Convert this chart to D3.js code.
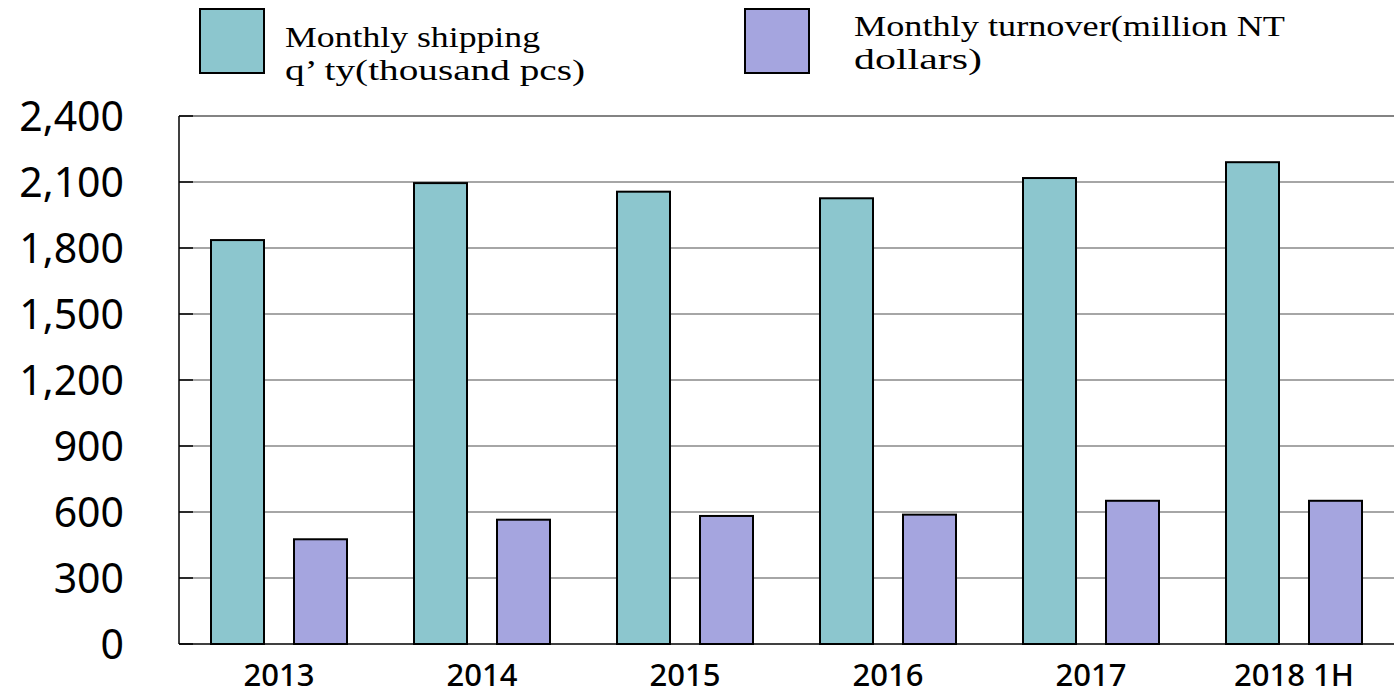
<!DOCTYPE html>
<html>
<head>
<meta charset="utf-8">
<script src="https://cdn.jsdelivr.net/npm/d3@7"></script>
<style>
  html, body { margin: 0; padding: 0; background: #ffffff; }
  svg { display: block; }
</style>
</head>
<body>
<svg id="chart" width="1394" height="696"></svg>
<script>
// ---- data ----
const categories = ["2013", "2014", "2015", "2016", "2017", "2018 1H"];
const seriesNames = ["Monthly shipping q’ ty(thousand pcs)", "Monthly turnover(million NT dollars)"];
const shipping = [1836, 2095, 2056, 2026, 2118, 2190];
const turnover = [476, 565, 582, 588, 651, 651];
const yTicks = [0, 300, 600, 900, 1200, 1500, 1800, 2100, 2400];
const legendLines = [["Monthly shipping", "q’  ty(thousand pcs)"], ["Monthly turnover(million NT", "dollars)"]];
const colors = ["#8cc6ce", "#a5a5df"];

// ---- layout ----
const svg = d3.select("#chart");
const plotLeft = 179, plotTop = 116, plotBottom = 644, step = 203;
const x = d3.scaleBand().domain(categories).range([plotLeft, plotLeft + step * categories.length]).paddingInner(0).paddingOuter(0);
const xs = d3.scaleBand().domain([0, 1]).range([32, 168]).paddingInner(30 / 83).paddingOuter(0);
const y = d3.scaleLinear().domain([0, 2400]).range([plotBottom, plotTop]);

// gridlines
svg.append("g").selectAll("line").data(yTicks.filter(d => d > 0 && d < 2400)).join("line")
  .attr("x1", plotLeft).attr("x2", 1394)
  .attr("y1", d => y(d)).attr("y2", d => y(d))
  .attr("stroke", "#a6a6a6").attr("stroke-width", 2);
// top border
svg.append("line").attr("x1", plotLeft).attr("x2", 1394).attr("y1", y(2400)).attr("y2", y(2400))
  .attr("stroke", "#5a5a5a").attr("stroke-width", 1.5);
// small ticks
svg.append("g").selectAll("line").data(yTicks).join("line")
  .attr("x1", plotLeft).attr("x2", plotLeft + 14)
  .attr("y1", d => y(d)).attr("y2", d => y(d))
  .attr("stroke", "#000").attr("stroke-width", 1.5);

// bars
const data = [shipping, turnover];
data.forEach((vals, si) => {
  svg.append("g").selectAll("rect").data(vals).join("rect")
    .attr("x", (d, i) => x(categories[i]) + xs(si))
    .attr("width", xs.bandwidth())
    .attr("y", d => y(d))
    .attr("height", d => y(0) - y(d))
    .attr("fill", colors[si])
    .attr("stroke", "#000").attr("stroke-width", 2);
});

// axes lines
svg.append("line").attr("x1", plotLeft).attr("x2", plotLeft).attr("y1", plotTop).attr("y2", plotBottom)
  .attr("stroke", "#000").attr("stroke-width", 1.5);
svg.append("line").attr("x1", plotLeft).attr("x2", 1394).attr("y1", plotBottom).attr("y2", plotBottom)
  .attr("stroke", "#000").attr("stroke-width", 1.5);

// y labels
const fmt = d3.format(",");
svg.append("g").selectAll("text").data(yTicks).join("text")
  .attr("x", 124).attr("y", d => y(d))
  .attr("dy", "0.36em")
  .attr("text-anchor", "end")
  .attr("font-family", "'Noto Sans', 'Open Sans', sans-serif")
  .attr("font-size", 41)
  .attr("fill", "#000")
  .text(d => fmt(d));

// x labels
svg.append("g").selectAll("text").data(categories).join("text")
  .attr("x", d => x(d) + 100).attr("y", 686)
  .attr("text-anchor", "middle")
  .attr("font-family", "'Noto Sans', 'Open Sans', sans-serif")
  .attr("font-size", 31)
  .attr("font-weight", 500)
  .attr("fill", "#000")
  .text(d => d);

// legend
const legendPos = [
  { rx: 200, tx: 285, base: [47, 80], widths: [255, 300] },
  { rx: 745, tx: 854, base: [36, 68.5], widths: [431, 128] }
];
legendPos.forEach((p, i) => {
  svg.append("rect").attr("x", p.rx).attr("y", 9).attr("width", 64).attr("height", 64)
    .attr("fill", colors[i]).attr("stroke", "#000").attr("stroke-width", 2);
  legendLines[i].forEach((line, j) => {
    svg.append("text")
      .attr("x", p.tx).attr("y", p.base[j])
      .attr("font-family", "'Liberation Serif', 'DejaVu Serif', serif")
      .attr("font-size", 29)
      .attr("textLength", p.widths[j])
      .attr("lengthAdjust", "spacingAndGlyphs")
      .attr("fill", "#000")
      .text(line);
  });
});
</script>
</body>
</html>
